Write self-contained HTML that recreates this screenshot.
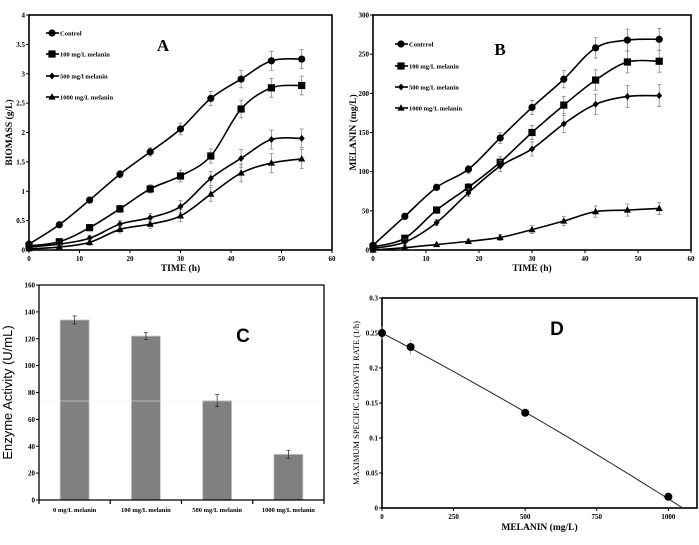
<!DOCTYPE html>
<html><head><meta charset="utf-8"><style>
html,body{margin:0;padding:0;background:#fff;}
svg{display:block;font-family:"Liberation Serif",serif;}
.tk{font-size:7px;font-weight:bold;}
</style></head><body>
<svg id="fig" width="699" height="545" viewBox="0 0 699 545" xmlns="http://www.w3.org/2000/svg"></svg>
<script>
const timesA=[0,6,12,18,24,30,36,42,48,54];
const bioControl=[0.1,0.43,0.85,1.29,1.67,2.06,2.58,2.91,3.22,3.25];
const bio100=[0.07,0.14,0.38,0.7,1.04,1.26,1.6,2.4,2.76,2.8];
const bio500=[0.05,0.1,0.2,0.44,0.55,0.74,1.22,1.56,1.88,1.9];
const bio1000=[0.02,0.05,0.13,0.35,0.44,0.58,0.95,1.31,1.48,1.55];
const bioErr=[0.03,0.04,0.05,0.06,0.07,0.1,0.12,0.15,0.16,0.16];
const melControl=[6,43,80,103,143,182,218,258,268,269];
const mel100=[4,15,51,80,112,150,185,217,240,241];
const mel500=[2,10,35,73,107,129,161,186,196,197];
const mel1000=[0,3,7,11,16,26,37,49,51,53];
const melErr=[3,4,4,5,7,9,11,13,14,14];
const legendLabelsA=["Control","100 mg/L  melanin","500 mg/l melanin","1000 mg/L  melanin"];
const legendLabelsB=["Contrrol","100 mg/L melanin","500 mg/L melanin","1000 mg/L melanin"];
const barCats=["0 mg/L melanin","100 mg/L melanin","500 mg/L melanin","1000 mg/L melanin"];
const barVals=[134,122,74,34];
const barErr=[3,2.5,4.5,3];
const dX=[0,100,500,1000];
const dY=[0.25,0.23,0.136,0.016];
const dErr=[0.01,0.011,0.006,0.004];
const fitCoef=[0.25,-0.000215,-2.2e-8];
const fitRange=[0,1050];

const svg=document.getElementById('fig');
const NS="http://www.w3.org/2000/svg";
function el(tag,attrs,parent){const e=document.createElementNS(NS,tag);for(const k in attrs)e.setAttribute(k,attrs[k]);(parent||svg).appendChild(e);return e;}
function txt(s,attrs,parent){const e=el('text',attrs,parent);e.textContent=s;return e;}
function scale(d0,d1,r0,r1){return v=>r0+(v-d0)/(d1-d0)*(r1-r0);}
function smoothPath(pts){let d=`M${pts[0][0]},${pts[0][1]}`;for(let i=0;i<pts.length-1;i++){const p0=pts[i-1]||pts[i],p1=pts[i],p2=pts[i+1],p3=pts[i+2]||p2;const t=6;d+=` C${p1[0]+(p2[0]-p0[0])/t},${p1[1]+(p2[1]-p0[1])/t} ${p2[0]-(p3[0]-p1[0])/t},${p2[1]-(p3[1]-p1[1])/t} ${p2[0]},${p2[1]}`;}return d;}
function marker(g,shape,x,y,s){
  if(shape==='circle')return el('circle',{cx:x,cy:y,r:s||3.6,fill:'#000'},g);
  if(shape==='square')return el('rect',{x:x-3.6,y:y-3.6,width:7.2,height:7.2,fill:'#000'},g);
  if(shape==='diamond')return el('polygon',{points:`${x},${y-3.5} ${x+3},${y} ${x},${y+3.5} ${x-3},${y}`,fill:'#000'},g);
  return el('polygon',{points:`${x},${y-3.8} ${x+3.6},${y+2.6} ${x-3.6},${y+2.6}`,fill:'#000'},g);
}
function frame(g,L,T,R,B){el('rect',{x:L,y:T,width:R-L,height:B-T,fill:'none',stroke:'#000','stroke-width':1.6},g);}

function linePanel(name,L,T,R,B,ymax,ystep,ydec,series,err,labels,legY,legX,letter,letX,letY,ylabel){
  const g=el('g',{});
  
  
  const sx=scale(0,60,L,R),sy=scale(0,ymax,B,T);
  frame(g,L,T,R,B);
  for(let v=0;v<=60;v+=10){el('line',{x1:sx(v),x2:sx(v),y1:B,y2:B+3,stroke:'#000'},g);txt(String(v),{x:sx(v),y:B+11,'text-anchor':'middle',class:'tk'},g);}
  for(let v=0;v<=ymax+1e-9;v+=ystep){const lab=ydec?String(+v.toFixed(1)):String(v);el('line',{x1:L-3,x2:L,y1:sy(v),y2:sy(v),stroke:'#000'},g);txt(lab,{x:L-4,y:sy(v)+2.5,'text-anchor':'end',class:'tk'},g);}
  const shapes=['circle','square','diamond','triangle'];
  series.forEach((vals,si)=>{
    const sg=el('g',{},g);
    
    
    const pts=timesA.map((t,i)=>[sx(t),sy(vals[i])]);
    el('path',{d:smoothPath(pts),fill:'none',stroke:'#000','stroke-width':1.6},sg);
    timesA.forEach((t,i)=>{const e=err[i]*(si===3&&ymax>100?0.55:1);if(i>0){el('line',{x1:sx(t),x2:sx(t),y1:sy(vals[i]-e),y2:sy(vals[i]+e),stroke:'#777','stroke-width':0.7},sg);el('line',{x1:sx(t)-2,x2:sx(t)+2,y1:sy(vals[i]+e),y2:sy(vals[i]+e),stroke:'#777','stroke-width':0.7},sg);el('line',{x1:sx(t)-2,x2:sx(t)+2,y1:sy(vals[i]-e),y2:sy(vals[i]-e),stroke:'#777','stroke-width':0.7},sg);}
      marker(sg,shapes[si],sx(t),sy(vals[i]));});
  });
  labels.forEach((lab,i)=>{const lg=el('g',{},g);
    
    
    el('line',{x1:legX,x2:legX+13,y1:legY[i],y2:legY[i],stroke:'#000','stroke-width':1.6},lg);marker(lg,shapes[i],legX+6,legY[i]);
    txt(lab,{x:legX+14,y:legY[i]+2.5,style:'font-size:6.5px;font-weight:bold'},lg);});
  const lt=txt(letter,{x:letX,y:letY,style:'font-size:17px;font-weight:bold','text-anchor':'middle'},g);
  
  const xt=txt('TIME (h)',{x:(L+R)/2,y:B+21,'text-anchor':'middle',style:'font-size:9.5px;font-weight:bold'},g);
  
  const yt=txt(ylabel,{x:0,y:0,'text-anchor':'middle',transform:`translate(${L-17},${(T+B)/2}) rotate(-90)`,style:'font-size:9.5px;font-weight:bold'},g);
  
}
linePanel('panel-a-biomass',29,15,332,250,4,0.5,true,[bioControl,bio100,bio500,bio1000],bioErr,legendLabelsA,[33,54,76,97],46,'A',163,51,'BIOMASS (g/L)');
linePanel('panel-b-melanin',373,15,691,250,300,50,false,[melControl,mel100,mel500,mel1000],melErr,legendLabelsB,[44,66,87,108],395,'B',500,55,'MELANIN (mg/L)');

// Panel C
(function(){
  const g=el('g',{});
  
  
  const L=39,T=285,R=324,B=500;const sy=scale(0,160,B,T);const band=(R-L)/barCats.length;
  barVals.forEach((v,i)=>{const cx=L+band*(i+0.5);
    const r=el('rect',{x:cx-14.5,y:sy(v),width:29,height:B-sy(v),fill:'#808080',stroke:'#c8c8c8','stroke-width':0.8},g);
    
    el('line',{x1:cx,x2:cx,y1:sy(v-barErr[i]),y2:sy(v+barErr[i]),stroke:'#222','stroke-width':0.7},g);
    el('line',{x1:cx-2,x2:cx+2,y1:sy(v+barErr[i]),y2:sy(v+barErr[i]),stroke:'#222','stroke-width':0.7},g);
    el('line',{x1:cx-2,x2:cx+2,y1:sy(v-barErr[i]),y2:sy(v-barErr[i]),stroke:'#222','stroke-width':0.7},g);
    txt(barCats[i],{x:cx,y:B+12,'text-anchor':'middle',style:'font-size:6.5px;font-weight:bold'},g);
  });
  el('line',{x1:L,x2:R,y1:401,y2:401,stroke:'#f0f0f0','stroke-width':0.6},g);
  el('polyline',{points:`${L},${T} ${L},${B} ${R},${B} ${R},${T} ${L},${T}`,fill:'none',stroke:'#000','stroke-width':1.3},g);
  for(let i=0;i<=barCats.length;i++){const x=L+band*i;el('line',{x1:x,x2:x,y1:B,y2:B+4,stroke:'#000','stroke-width':1.2},g);}
  for(let v=0;v<=160;v+=20){el('line',{x1:L-3,x2:L,y1:sy(v),y2:sy(v),stroke:'#000'},g);txt(String(v),{x:L-4,y:sy(v)+2.5,'text-anchor':'end',class:'tk'},g);}
  const yt=txt('Enzyme Activity (U/mL)',{x:0,y:0,'text-anchor':'middle',transform:`translate(12,${(T+B)/2}) rotate(-90)`,style:'font-size:13px;font-family:"Liberation Sans",sans-serif'},g);
  
  const lt=txt('C',{x:243,y:342,'text-anchor':'middle',style:'font-size:19px;font-weight:bold;font-family:"Liberation Sans",sans-serif'},g);
  
})();

// Panel D
(function(){
  const g=el('g',{});
  
  
  const L=382,T=298,R=697,B=508;const sx=scale(0,1100,L,R),sy=scale(0,0.3,B,T);
  frame(g,L,T,R,B);
  for(let v=0;v<=1000;v+=250){el('line',{x1:sx(v),x2:sx(v),y1:B,y2:B+3,stroke:'#000'},g);txt(String(v),{x:sx(v),y:B+11,'text-anchor':'middle',class:'tk'},g);}
  for(let k=0;k<=6;k++){const v=k*0.05;el('line',{x1:L-3,x2:L,y1:sy(v),y2:sy(v),stroke:'#000'},g);txt(String(+v.toFixed(2)),{x:L-4,y:sy(v)+2.5,'text-anchor':'end',class:'tk'},g);}
  const fp=[];for(let x=fitRange[0];x<=fitRange[1];x+=25){fp.push(`${sx(x)},${sy(fitCoef[0]+fitCoef[1]*x+fitCoef[2]*x*x)}`);}
  const fl=el('polyline',{points:fp.join(' '),fill:'none',stroke:'#222','stroke-width':1},g);
  
  dX.forEach((x,i)=>{el('line',{x1:sx(x),x2:sx(x),y1:sy(dY[i]-dErr[i]),y2:sy(dY[i]+dErr[i]),stroke:'#999','stroke-width':0.7},g);
    const c=marker(g,'circle',sx(x),sy(dY[i]),4);});
  const xt=txt('MELANIN (mg/L)',{x:(L+R)/2,y:530,'text-anchor':'middle',style:'font-size:9.5px;font-weight:bold'},g);
  
  const yt=txt('MAXIMUM SPECIFIC GROWTH  RATE (1/h)',{x:0,y:0,'text-anchor':'middle',transform:`translate(359,${(T+B)/2}) rotate(-90)`,style:'font-size:8.5px'},g);
  
  const lt=txt('D',{x:557,y:335,'text-anchor':'middle',style:'font-size:19px;font-weight:bold;font-family:"Liberation Sans",sans-serif'},g);
  
})();
</script>
</body></html>
